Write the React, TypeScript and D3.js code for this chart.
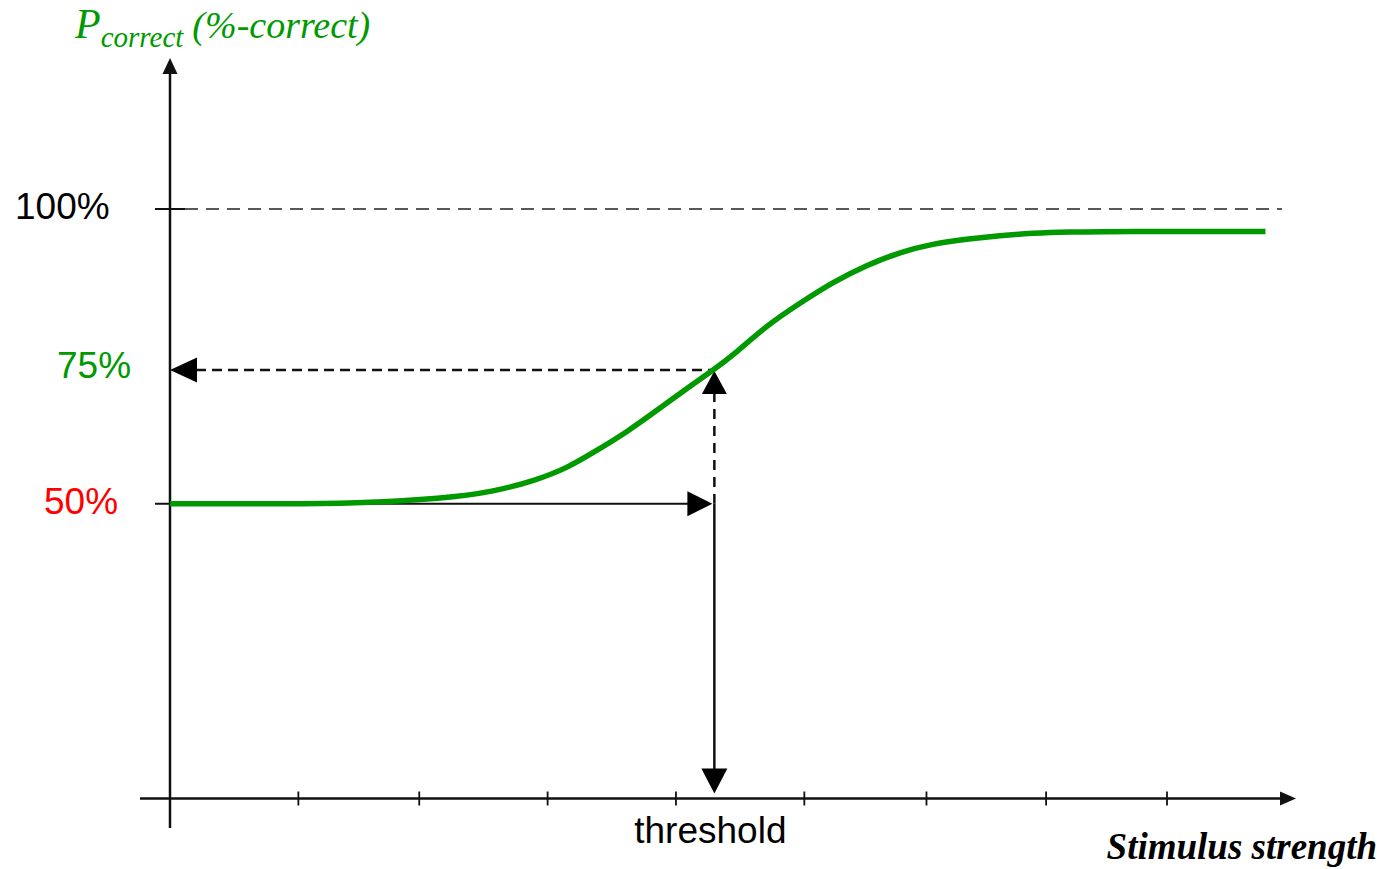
import React from 'react'
import * as d3 from 'd3'

// psychometric curve (x in stimulus units, y in % correct)
const curveX = [0, 1.04, 1.52, 2.19, 2.59, 2.94, 3.19, 3.39, 3.67, 3.93, 4.15, 4.36, 4.52, 4.79, 5.06, 5.32, 5.59, 5.86, 6.12, 6.39, 6.66, 6.92, 7.2, 7.6, 8.79]
const curveY = [50, 50, 50.1, 50.9, 52.0, 54.0, 56.1, 58.6, 62.2, 66.2, 69.6, 72.7, 75.2, 80.3, 84.1, 87.6, 90.5, 92.7, 94.1, 94.9, 95.5, 95.9, 96.1, 96.2, 96.2]

const xTicks = [1.03, 2.0, 3.03, 4.06, 5.09, 6.07, 7.03, 8.0]
const yTickValues = [100, 50]
const yTickLabels = ['100%', '50%']
const yTickColors = ['#000000', '#ff0000']

const thresholdX = 4.36
const thresholdY = 72.7
const thresholdLabel = '75%'

const GREEN = '#009900'
const SANS = '"Liberation Sans", Arial, sans-serif'
const SERIF = '"Liberation Serif", "Times New Roman", serif'

const W = 1388
const H = 869

// arrow head: tip at (x, y), pointing in direction (dx, dy)
function arrowHead(x: number, y: number, dx: number, dy: number, len: number, half: number) {
  const bx = x - dx * len
  const by = y - dy * len
  const px = -dy * half
  const py = dx * half
  return `M${x},${y}L${bx + px},${by + py}L${bx - px},${by - py}Z`
}

export default function App() {
  const x = d3.scaleLinear().domain([0, 8]).range([170, 1167])
  const y = d3.scaleLinear().domain([0, 100]).range([798.5, 209])

  const points = curveX.map((v, i) => [v, curveY[i]] as [number, number])
  const line = d3.line<[number, number]>()
    .x(d => x(d[0]))
    .y(d => y(d[1]))
    .curve(d3.curveBasis)

  const x0 = x(0)
  const y0 = y(0)
  const axisLeft = x0 - 30
  const axisRight = 1296
  const axisTop = 58
  const axisBottom = 828

  const tx = x(thresholdX) + 1
  const ty = y(thresholdY)
  const y50 = y(50)

  return (
    <svg width={W} height={H} style={{ position: 'absolute', left: 0, top: 0, background: '#fff' }}>
      {/* dashed 100% reference line */}
      <line x1={x0 + 15} x2={1282} y1={y(100)} y2={y(100)} stroke="#222" strokeWidth={1.5} strokeDasharray="13 8" />

      {/* y ticks */}
      {yTickValues.map((v, i) => (
        <g key={v}>
          <line x1={x0 - 15} x2={x0 + 15} y1={y(v)} y2={y(v)} stroke="#111" strokeWidth={2} />
          <text x={i === 0 ? 15 : 44} y={y(v) + 10} fontFamily={SANS} fontSize={37} fill={yTickColors[i]}>
            {yTickLabels[i]}
          </text>
        </g>
      ))}
      <text x={57} y={ty + 8} fontFamily={SANS} fontSize={37} fill={GREEN}>{thresholdLabel}</text>

      {/* axes */}
      <line x1={x0} x2={x0} y1={axisTop + 14} y2={axisBottom} stroke="#111" strokeWidth={2.5} />
      <path d={arrowHead(x0, axisTop, 0, -1, 16, 7.5)} fill="#111" />
      <line x1={axisLeft} x2={axisRight - 14} y1={y0} y2={y0} stroke="#111" strokeWidth={2.5} />
      <path d={arrowHead(axisRight, y0, 1, 0, 16, 7)} fill="#111" />
      {xTicks.map(t => (
        <line key={t} x1={x(t)} x2={x(t)} y1={y0 - 7} y2={y0 + 7} stroke="#111" strokeWidth={1.8} />
      ))}

      {/* threshold construction */}
      <line x1={x0 + 26} x2={tx} y1={ty} y2={ty} stroke="#111" strokeWidth={2.5} strokeDasharray="10 6" />
      <path d={arrowHead(x0, ty, -1, 0, 27, 12.5)} fill="#000" />
      <line x1={tx} x2={tx} y1={ty + 22} y2={y50} stroke="#111" strokeWidth={2.5} strokeDasharray="10 7" />
      <path d={arrowHead(tx, ty + 1, 0, -1, 23, 12.5)} fill="#000" />
      <line x1={x0} x2={tx - 24} y1={y50} y2={y50} stroke="#111" strokeWidth={2} />
      <path d={arrowHead(tx - 2, y50, 1, 0, 25, 12.5)} fill="#000" />
      <line x1={tx} x2={tx} y1={y50} y2={y0 - 28} stroke="#111" strokeWidth={2.5} />
      <path d={arrowHead(tx, y0 - 5, 0, 1, 25, 13)} fill="#000" />

      {/* psychometric curve */}
      <path d={line(points) ?? ''} fill="none" stroke={GREEN} strokeWidth={5.5} />

      {/* labels */}
      <text x={tx - 4} y={843} textAnchor="middle" fontFamily={SANS} fontSize={37} fill="#000">threshold</text>
      <text x={1377} y={859} textAnchor="end" fontFamily={SERIF} fontSize={37} fontWeight="bold" fontStyle="italic" fill="#000">
        Stimulus strength
      </text>
      <text x={75} y={38} fontFamily={SERIF} fontStyle="italic" fill={GREEN}>
        <tspan fontSize={42}>P</tspan>
        <tspan fontSize={29} dy={9}>correct</tspan>
        <tspan fontSize={38} dy={-9} dx={9}>(%-correct)</tspan>
      </text>
    </svg>
  )
}
